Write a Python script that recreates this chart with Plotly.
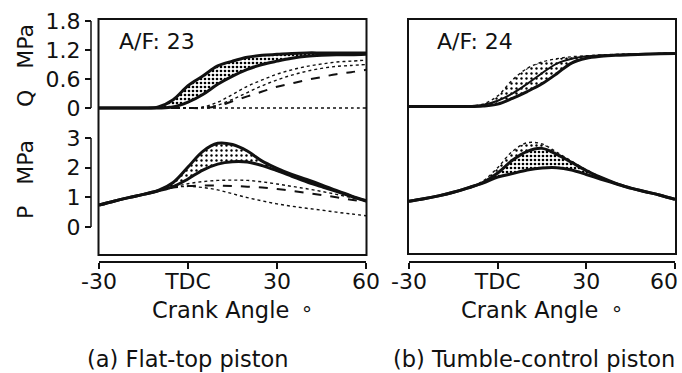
import plotly.graph_objects as go

W, H = 682, 373

# ---------------- data ----------------
crank_angle = [-30, -25, -20, -15, -10, -5, 0, 5, 10, 15, 20, 25, 30, 35, 40, 45, 50, 55, 60]

# (a) Flat-top piston, A/F 23 : heat release Q [MPa]
q_a_fast   = [0, 0, 0, 0, 0.02, 0.17, 0.46, 0.66, 0.87, 0.97, 1.05, 1.09, 1.11, 1.13, 1.14, 1.14, 1.14, 1.14, 1.14]
q_a_main   = [0, 0, 0, 0, 0, 0.02, 0.12, 0.28, 0.49, 0.66, 0.80, 0.90, 0.97, 1.03, 1.07, 1.09, 1.10, 1.10, 1.11]
q_a_slow1  = [0, 0, 0, 0, 0, 0, 0, 0.02, 0.12, 0.28, 0.45, 0.58, 0.70, 0.79, 0.86, 0.91, 0.95, 0.97, 0.99]
q_a_slow2  = [0, 0, 0, 0, 0, 0, 0, 0.01, 0.06, 0.18, 0.32, 0.46, 0.58, 0.68, 0.76, 0.82, 0.86, 0.88, 0.90]
q_a_slow3  = [0, 0, 0, 0, 0, 0, 0, 0, 0.04, 0.14, 0.24, 0.34, 0.44, 0.51, 0.58, 0.64, 0.70, 0.74, 0.79]
q_a_misf   = [0, 0, 0, 0, 0, 0, 0, 0, 0, 0, 0, 0, 0, 0, 0, 0, 0, 0, 0]

# (a) cylinder pressure P [MPa]
p_a_fast   = [0.74, 0.87, 0.99, 1.10, 1.23, 1.50, 2.02, 2.55, 2.82, 2.78, 2.56, 2.22, 1.98, 1.77, 1.60, 1.42, 1.23, 1.05, 0.89]
p_a_main   = [0.74, 0.87, 0.99, 1.10, 1.22, 1.36, 1.62, 1.92, 2.12, 2.20, 2.19, 2.07, 1.90, 1.71, 1.52, 1.36, 1.20, 1.03, 0.87]
p_a_slow1  = [0.74, 0.87, 0.99, 1.10, 1.22, 1.34, 1.46, 1.53, 1.57, 1.58, 1.57, 1.52, 1.45, 1.37, 1.29, 1.20, 1.10, 0.99, 0.88]
p_a_slow2  = [0.74, 0.87, 0.99, 1.10, 1.22, 1.33, 1.38, 1.40, 1.40, 1.38, 1.36, 1.33, 1.28, 1.22, 1.15, 1.08, 1.00, 0.92, 0.84]
p_a_misf   = [0.74, 0.87, 0.99, 1.10, 1.22, 1.33, 1.37, 1.33, 1.25, 1.12, 0.99, 0.88, 0.78, 0.70, 0.63, 0.57, 0.50, 0.44, 0.38]

# (b) Tumble-control piston, A/F 24 : Q [MPa]
q_b_fast   = [0.03, 0.03, 0.03, 0.03, 0.04, 0.08, 0.25, 0.58, 0.82, 0.95, 1.02, 1.06, 1.08, 1.10, 1.11, 1.12, 1.12, 1.13, 1.14]
q_b_main   = [0.03, 0.03, 0.03, 0.03, 0.04, 0.06, 0.15, 0.30, 0.50, 0.72, 0.92, 1.02, 1.07, 1.09, 1.10, 1.11, 1.12, 1.13, 1.13]
q_b_slow   = [0.03, 0.03, 0.03, 0.03, 0.03, 0.04, 0.08, 0.20, 0.34, 0.50, 0.71, 0.93, 1.03, 1.07, 1.09, 1.10, 1.11, 1.12, 1.13]

# (b) P [MPa]
p_b_fast   = [0.87, 0.95, 1.05, 1.17, 1.32, 1.55, 2.00, 2.55, 2.84, 2.80, 2.52, 2.22, 1.93, 1.68, 1.48, 1.32, 1.19, 1.07, 0.93]
p_b_main   = [0.87, 0.95, 1.05, 1.17, 1.32, 1.50, 1.82, 2.25, 2.55, 2.65, 2.45, 2.18, 1.90, 1.67, 1.47, 1.31, 1.19, 1.07, 0.93]
p_b_slow   = [0.87, 0.95, 1.05, 1.17, 1.32, 1.48, 1.68, 1.80, 1.92, 1.99, 2.00, 1.92, 1.77, 1.61, 1.46, 1.31, 1.19, 1.07, 0.93]

x_ticks = [-30, 0, 30, 60]
x_ticktext_a = ["-30", "TDC", "30", "60"]
x_ticktext_b = ["-30", "TDC", "30", ""]   # last label of (b) is placed as text below
last_tick_label_b = "60"
q_ticks = [0, 0.6, 1.2, 1.8]
q_ticktext = ["0", "0.6", "1.2", "1.8"]
p_ticks = [0, 1, 2, 3]
p_ticktext = ["0", "1", "2", "3"]

# ---------------- layout helpers ----------------
def px_x(p):
    return p / W

def px_y(p):
    return 1 - p / H

INK = "#111111"
FONT = "DejaVu Sans"

# Q axis: 1.8 at y=21px, 0 at y=108px  -> range [-0.2, 1.8]
q_per_px = 1.8 / 87.0
q_bottom_px = 108 + 0.2 / q_per_px
q_dom = [px_y(q_bottom_px), px_y(21)]
# P axis: 3 at y=138px, 0 at y=227px
p_dom = [px_y(227), px_y(138)]

xa_dom = [px_x(99), px_x(366)]
xb_dom = [px_x(409), px_x(675)]

fig = go.Figure()

pattern = dict(shape=".", fgcolor="black", bgcolor="rgba(255,255,255,0)", size=4, solidity=0.35)
pattern_light = dict(shape=".", fgcolor="black", bgcolor="rgba(255,255,255,0)", size=5, solidity=0.18)


def band(lo, hi, xa, ya, pat):
    fig.add_trace(go.Scatter(x=crank_angle, y=lo, xaxis=xa, yaxis=ya, mode="lines",
                             line=dict(width=0, shape="spline", smoothing=1.0),
                             showlegend=False, hoverinfo="skip"))
    fig.add_trace(go.Scatter(x=crank_angle, y=hi, xaxis=xa, yaxis=ya, mode="lines",
                             line=dict(width=0, shape="spline", smoothing=1.0),
                             fill="tonexty", fillcolor="rgba(0,0,0,0)", fillpattern=pat,
                             showlegend=False, hoverinfo="skip"))


def curve(y, xa, ya, width=2.5, dash="solid"):
    fig.add_trace(go.Scatter(x=crank_angle, y=y, xaxis=xa, yaxis=ya, mode="lines",
                             line=dict(color=INK, width=width, dash=dash, shape="spline", smoothing=1.0),
                             showlegend=False, hoverinfo="skip"))

# bands
band(q_a_main, q_a_fast, "x", "y", pattern)
band(p_a_main, p_a_fast, "x", "y2", pattern_light)
band(q_b_slow, q_b_fast, "x2", "y3", pattern_light)
band(p_b_slow, p_b_main, "x2", "y4", pattern)
band(p_b_main, p_b_fast, "x2", "y4", pattern_light)

# curves (a)
curve(q_a_misf, "x", "y", 1.4, "dot")
curve(q_a_slow3, "x", "y", 2.0, "dash")
curve(q_a_slow2, "x", "y", 1.4, "dot")
curve(q_a_slow1, "x", "y", 1.4, "dot")
curve(q_a_main, "x", "y", 3.0)
curve(q_a_fast, "x", "y", 3.0)

curve(p_a_misf, "x", "y2", 1.4, "dot")
curve(p_a_slow2, "x", "y2", 2.0, "dash")
curve(p_a_slow1, "x", "y2", 1.4, "dot")
curve(p_a_main, "x", "y2", 3.0)
curve(p_a_fast, "x", "y2", 3.0)

# curves (b)
curve(q_b_slow, "x2", "y3", 3.0)
curve(q_b_main, "x2", "y3", 2.0)
curve(q_b_fast, "x2", "y3", 1.4, "dot")

curve(p_b_slow, "x2", "y4", 3.0)
curve(p_b_main, "x2", "y4", 3.0)
curve(p_b_fast, "x2", "y4", 1.4, "dot")

tickfont = dict(family=FONT, size=22, color=INK)

xcommon = dict(range=[-30, 60], tickmode="array", tickvals=x_ticks,
               ticks="outside", ticklen=6, tickwidth=1.5, tickcolor=INK,
               showline=True, linewidth=2, linecolor=INK, showgrid=False, zeroline=False,
               tickfont=tickfont, anchor="free", position=px_y(262), fixedrange=True,
               automargin=False, ticklabelstandoff=-6, ticklabeloverflow="allow")

ycommon = dict(ticks="outside", ticklen=6, tickwidth=1.5, tickcolor=INK, showline=False,
               showgrid=False, zeroline=False, tickfont=tickfont, anchor="free",
               position=px_x(91), tickmode="array", fixedrange=True, automargin=False)

fig.update_layout(
    template="none",
    width=W, height=H,
    margin=dict(l=0, r=0, t=0, b=0, pad=0, autoexpand=False),
    paper_bgcolor="white", plot_bgcolor="white",
    showlegend=False,
    font=dict(family=FONT, color=INK),
    xaxis=dict(domain=xa_dom, ticktext=x_ticktext_a, **xcommon),
    xaxis2=dict(domain=xb_dom, ticktext=x_ticktext_b, **xcommon),
    yaxis=dict(domain=q_dom, range=[-0.2, 1.8], tickvals=q_ticks, ticktext=q_ticktext, **ycommon),
    yaxis2=dict(domain=p_dom, range=[0, 3], tickvals=p_ticks, ticktext=p_ticktext, **ycommon),
    yaxis3=dict(domain=q_dom, range=[-0.2, 1.8], visible=False, anchor="x2", fixedrange=True,
                automargin=False),
    yaxis4=dict(domain=p_dom, range=[0, 3], visible=False, anchor="x2", fixedrange=True,
                automargin=False),
)

shapes = [
    dict(type="rect", xref="paper", yref="paper", x0=px_x(98.5), x1=px_x(366.5),
         y0=px_y(255), y1=px_y(19), line=dict(color=INK, width=2)),
    dict(type="rect", xref="paper", yref="paper", x0=px_x(408), x1=px_x(676),
         y0=px_y(254), y1=px_y(19), line=dict(color=INK, width=2)),
    dict(type="line", xref="paper", yref="y", x0=px_x(91), x1=px_x(91), y0=0, y1=1.8,
         line=dict(color=INK, width=1.5)),
    dict(type="line", xref="paper", yref="y2", x0=px_x(91), x1=px_x(91), y0=0, y1=3,
         line=dict(color=INK, width=1.5)),
]
fig.update_layout(shapes=shapes)

def ann(text, x, y, size=22, xanchor="center", yanchor="middle", angle=0):
    fig.add_annotation(text=text, x=px_x(x), y=px_y(y), xref="paper", yref="paper",
                       showarrow=False, xanchor=xanchor, yanchor=yanchor, textangle=angle,
                       font=dict(family=FONT, size=size, color=INK))

ann("A/F: 23", 117, 42, 22, xanchor="left")
ann("A/F: 24", 435, 42, 22, xanchor="left")
ann("Q   MPa", 25, 66, 22, angle=-90)
ann("P   MPa", 25, 180, 22, angle=-90)
ann(last_tick_label_b, 680, 281, 22, xanchor="right")
ann("Crank Angle", 220, 310, 22.5)
ann("Crank Angle", 529, 310, 22.5)
ann("°", 307, 314, 20)
ann("°", 617, 314, 20)
ann("(a) Flat-top piston", 188, 359, 22.5)
ann("(b) Tumble-control piston", 534, 359, 22.5)

fig.write_html("out.html")
